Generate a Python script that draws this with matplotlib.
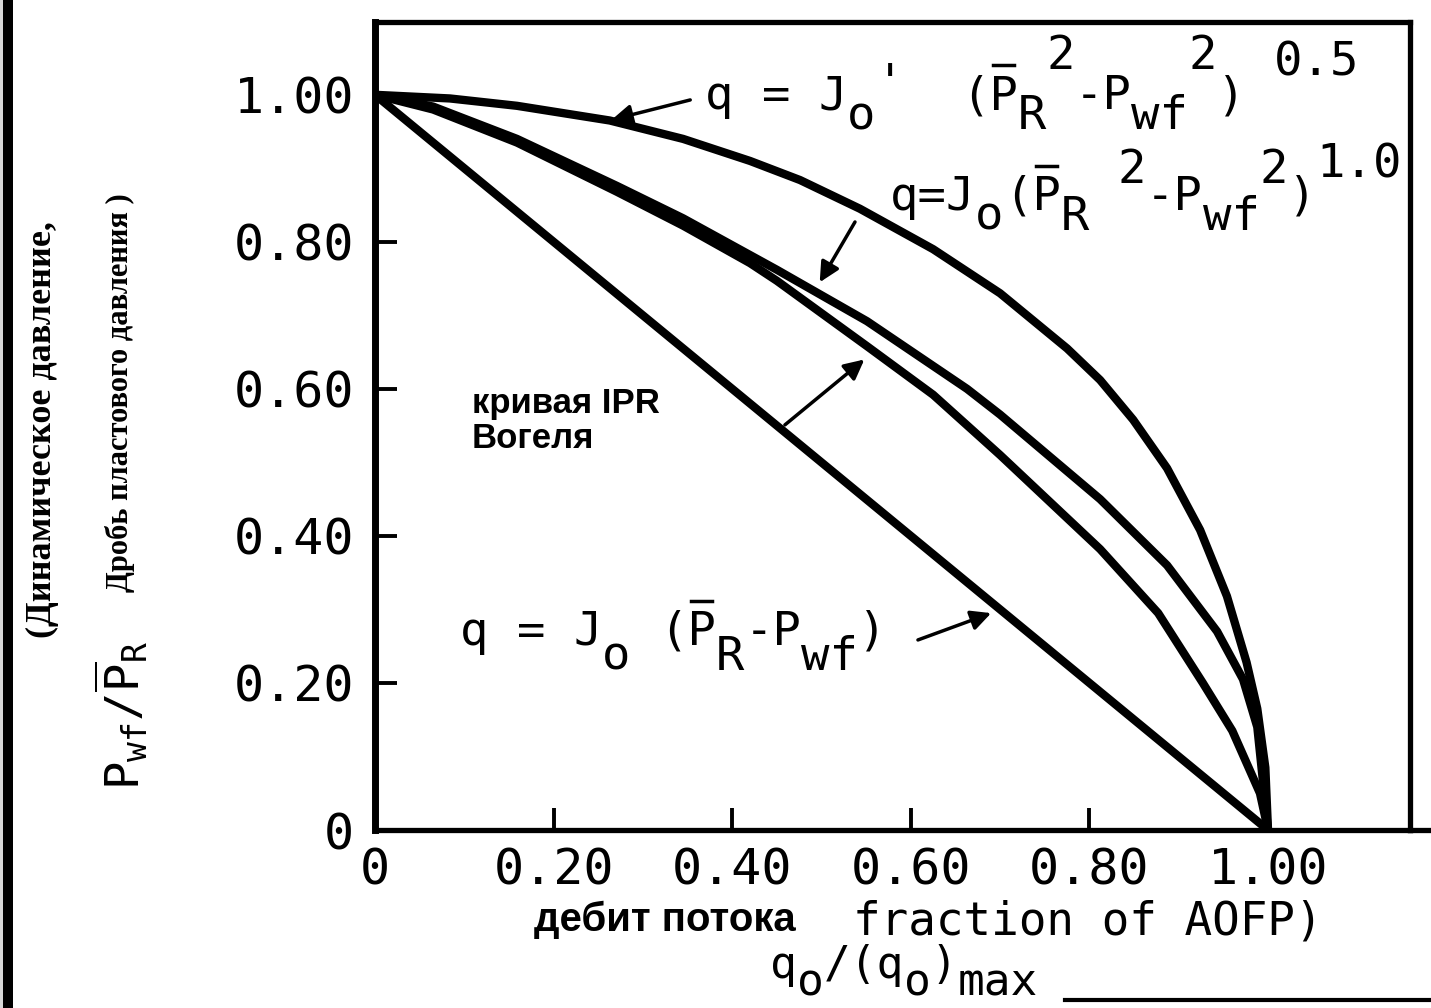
import matplotlib
matplotlib.use('Agg')
import matplotlib.pyplot as plt
from matplotlib.lines import Line2D
from matplotlib.patches import Rectangle
from matplotlib.transforms import IdentityTransform

plt.rcParams['font.family'] = 'DejaVu Sans Mono'
plt.rcParams['mathtext.fontset'] = 'custom'
plt.rcParams['mathtext.rm'] = 'DejaVu Sans Mono'
plt.rcParams['mathtext.it'] = 'DejaVu Sans Mono'
plt.rcParams['mathtext.default'] = 'rm'

# IPR curves: flow fraction q_o/(q_o)max against pressure fraction Pwf/PR
q_linear = [0.0, 1.0]
p_linear = [1.0, 0.0]

q_n05 = [0.0, 0.084, 0.159, 0.263, 0.345, 0.420, 0.476, 0.543, 0.625, 0.700,
         0.775, 0.812, 0.849, 0.887, 0.924, 0.954, 0.976, 0.988, 0.997, 1.0]
p_n05 = [1.0, 0.995, 0.985, 0.965, 0.940, 0.910, 0.884, 0.845, 0.790, 0.730,
         0.655, 0.612, 0.558, 0.492, 0.408, 0.318, 0.228, 0.165, 0.085, 0.0]

q_n10 = [0.0, 0.065, 0.159, 0.271, 0.345, 0.420, 0.450, 0.551, 0.663, 0.700,
         0.812, 0.887, 0.943, 0.972, 0.988, 1.0]
p_n10 = [1.0, 0.984, 0.940, 0.876, 0.832, 0.782, 0.762, 0.692, 0.600, 0.565,
         0.450, 0.360, 0.270, 0.205, 0.140, 0.0]

q_vogel = [0.0, 0.065, 0.159, 0.271, 0.345, 0.420, 0.450, 0.551, 0.625, 0.700,
           0.812, 0.877, 0.927, 0.960, 0.991, 1.0]
p_vogel = [1.0, 0.980, 0.935, 0.868, 0.822, 0.771, 0.747, 0.658, 0.592, 0.510,
           0.382, 0.295, 0.200, 0.135, 0.050, 0.0]

tick_vals = [0, 0.2, 0.4, 0.6, 0.8, 1.0]
tick_text = ['0', '0.20', '0.40', '0.60', '0.80', '1.00']

W, H = 1431, 1008
fig = plt.figure(figsize=(W / 100, H / 100), dpi=100)
ax = fig.add_axes([375 / W, 178 / H, 1035 / W, 808 / H])

for q, p in [(q_linear, p_linear), (q_n05, p_n05), (q_n10, p_n10), (q_vogel, p_vogel)]:
    ax.plot(q, p, color='black', lw=6, solid_capstyle='round', solid_joinstyle='round')

ax.set_xlim(0, 1.159)
ax.set_ylim(0, 1.099)
ax.set_xticks(tick_vals, tick_text)
ax.set_yticks(tick_vals, tick_text)
ax.tick_params(direction='in', length=16, width=2.8, labelsize=36, pad=15)
ax.tick_params(axis='x', pad=12)
for spine in ax.spines.values():
    spine.set_linewidth(3.8)
ax.spines['left'].set_linewidth(5)


def formula(xy, rows, coords='data', fs=34, bars=(), bar_dy=44):
    # monospaced layout: each row is (baseline shift in px, text on a char grid)
    pitch = 0.602 * fs * 100 / 72
    for dy, s in rows:
        i = 0
        for chunk in s.split(' '):
            if chunk:
                ax.annotate(chunk, xy=xy, xycoords=coords, xytext=(i * pitch, dy),
                            textcoords='offset pixels', fontsize=fs,
                            va='baseline', ha='left', annotation_clip=False)
            i += len(chunk) + 1
    x0, y0 = ax.transData.transform(xy) if coords == 'data' else xy
    for b in bars:
        fig.add_artist(Line2D([x0 + (b + 0.12) * pitch, x0 + (b + 0.88) * pitch],
                              [y0 + bar_dy] * 2, transform=IdentityTransform(),
                              color='black', lw=2.5))


def pointer(tail, head):
    ax.annotate('', xy=head, xytext=tail,
                arrowprops=dict(arrowstyle='-|>', color='black', lw=2.5,
                                mutation_scale=30, shrinkA=0, shrinkB=0))


# q = Jo' (PR^2 - Pwf^2)^0.5
formula((0.3695, 0.980), [
    (0, "q = J    (P  -P   )"),
    (-20, "     o     R   wf"),
    (12, "      '"),
    (40, "            2    2"),
    (34, "                    0.5"),
], bars=[10])
pointer((0.353, 0.993), (0.265, 0.966))

# q = Jo (PR^2 - Pwf^2)^1.0
formula((0.5767, 0.8435), [
    (0, "q=J (P   -P   )"),
    (-20, "   o  R    wf"),
    (27, "        2    2"),
    (32, "               1.0"),
], bars=[5])
pointer((0.5375, 0.827), (0.498, 0.745))

# q = Jo (PR - Pwf)
formula((0.0952, 0.2517), [
    (0, "q = J  (P -P  )"),
    (-25, "     o   R  wf"),
], bars=[8])
pointer((0.608, 0.2585), (0.690, 0.295))

ax.text(0.1086, 0.602, 'кривая IPR\nВогеля', ha='left', va='top',
        family='Liberation Sans', weight='bold', fontsize=25, linespacing=1.05)
pointer((0.459, 0.551), (0.548, 0.640))

# axis captions
fig.text(122 / W, 1 - 715 / H, r'$P_{wf}/\overline{P}_R$', rotation=90,
         ha='center', va='center', fontsize=34)
fig.text(42 / W, 1 - 430 / H, '(Динамическое давление,', rotation=90,
         ha='center', va='center', family='Liberation Serif', weight='bold', fontsize=26)
fig.text(120 / W, 1 - 393 / H, 'Дробь пластового давления )', rotation=90,
         ha='center', va='center', family='Liberation Serif', weight='bold', fontsize=22)

fig.text(665 / W, 1 - 920 / H, 'дебит потока', ha='center', va='center',
         family='Liberation Sans', weight='bold', fontsize=29)
fig.text(853 / W, 1 - 922 / H, 'fraction of AOFP)', ha='left', va='center', fontsize=33)
formula((770, 30), [(0, "q /(q )"), (-18, " o   o max")], coords='figure pixels', fs=32)

# scan frame edges
fig.add_artist(Rectangle((0, 0), 3 / W, 1, transform=fig.transFigure,
                         facecolor='#d8d8d8', edgecolor='none'))
fig.add_artist(Rectangle((3 / W, 0), 10 / W, 1, transform=fig.transFigure,
                         facecolor='black', edgecolor='none'))
fig.add_artist(Line2D([1065 / W, 1], [8 / H, 8 / H], transform=fig.transFigure,
                      color='black', lw=3))
fig.add_artist(Line2D([1410 / W, 1], [178 / H, 178 / H], transform=fig.transFigure,
                      color='black', lw=3.8))

fig.savefig('out.png', dpi=100)
